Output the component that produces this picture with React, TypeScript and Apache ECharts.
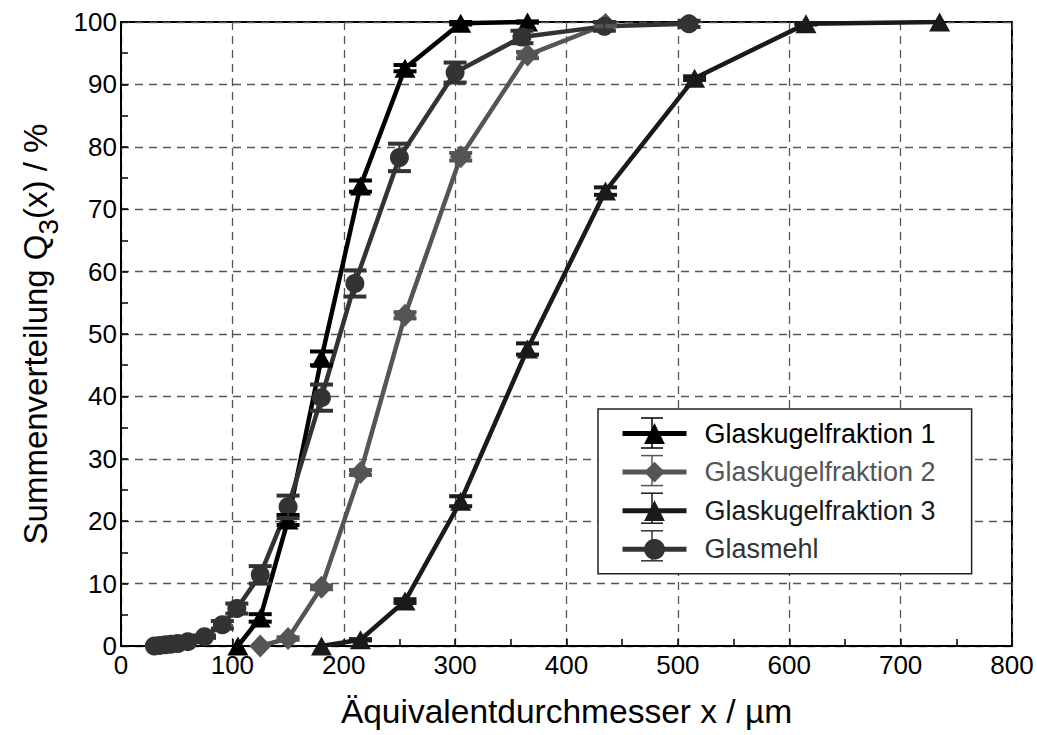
import React, { useEffect, useRef } from "react";
import * as echarts from "echarts";

// ---- data ----
const g1X = [105, 125, 150, 180, 215, 255, 305, 365];
const g1Y = [0, 4.5, 20.2, 46.1, 73.7, 92.6, 99.8, 100];
const g1Err = [0, 0.6, 0.8, 1.1, 0.9, 0.5, 0.2, 0.1];

const g2X = [125, 150, 180, 215, 255, 305, 365, 435];
const g2Y = [0, 1.2, 9.4, 27.8, 53, 78.4, 94.7, 99.6];
const g2Err = [0, 0.2, 0.3, 0.4, 0.5, 0.6, 0.5, 0.3];

const g3X = [180, 215, 255, 305, 365, 435, 515, 615, 735];
const g3Y = [0, 1.0, 7.2, 23.2, 47.6, 72.9, 91, 99.7, 100];
const g3Err = [0, 0.1, 0.3, 0.8, 0.9, 0.6, 0.3, 0.1, 0];

const gmX = [30, 35, 40, 45, 51, 60, 75, 91, 104, 125, 150, 180, 210, 250, 300, 360, 434, 510];
const gmY = [0, 0.1, 0.2, 0.3, 0.4, 0.7, 1.5, 3.4, 6.0, 11.4, 22.3, 39.8, 58.1, 78.3, 91.9, 97.6, 99.3, 99.7];
const gmErr = [0, 0, 0, 0, 0, 0.1, 0.2, 0.6, 0.8, 1.4, 1.8, 2.1, 2.1, 2.2, 1.6, 1.0, 0.7, 0.5];

const names = ["Glaskugelfraktion 1", "Glaskugelfraktion 2", "Glaskugelfraktion 3", "Glasmehl"];
const colors = ["#000000", "#555555", "#1a1a1a", "#333333"];
const symbols = ["triangle", "diamond", "triangle", "circle"];
const symbolSizes: any[] = [[21, 19], [22, 23], [21, 19], 19];

const xTicks = [0, 100, 200, 300, 400, 500, 600, 700, 800];
const yTicks = [0, 10, 20, 30, 40, 50, 60, 70, 80, 90, 100];

const FONT = "Liberation Sans, Arial, sans-serif";

export default function App() {
  const ref = useRef<HTMLDivElement>(null);
  useEffect(() => {
    if (!ref.current) return;
    const chart = echarts.init(ref.current, undefined, { renderer: "svg" });
    const xs = [g1X, g2X, g3X, gmX];
    const ys = [g1Y, g2Y, g3Y, gmY];
    const es = [g1Err, g2Err, g3Err, gmErr];

    const lineSeries = names.map((n, i) => ({
      name: n,
      type: "line",
      data: xs[i].map((x, j) => [x, ys[i][j]]),
      symbol: symbols[i],
      symbolSize: symbolSizes[i],
      showAllSymbol: true,
      lineStyle: { color: colors[i], width: 4.5 },
      itemStyle: { color: colors[i] },
      z: 3,
    }));

    const errSeries = names.map((n, i) => ({
      name: n + " err",
      type: "custom",
      data: xs[i].map((x, j) => [x, ys[i][j], es[i][j]]),
      encode: { x: 0, y: 1 },
      z: 4,
      renderItem: (params: any, api: any) => {
        const x = api.value(0);
        const y = api.value(1);
        const e = api.value(2);
        if (!e) return null;
        const top = api.coord([x, y + e]);
        const bot = api.coord([x, y - e]);
        const hw = 11.5;
        const st = { stroke: colors[i], lineWidth: 4 };
        return {
          type: "group",
          children: [
            { type: "line", shape: { x1: top[0], y1: top[1], x2: bot[0], y2: bot[1] }, style: { stroke: colors[i], lineWidth: 2 } },
            { type: "line", shape: { x1: top[0] - hw, y1: top[1], x2: top[0] + hw, y2: top[1] }, style: st },
            { type: "line", shape: { x1: bot[0] - hw, y1: bot[1], x2: bot[0] + hw, y2: bot[1] }, style: st },
          ],
        };
      },
    }));

    // legend geometry
    const legLeft = 598;
    const legTop = 409;
    const padTop = 11;
    const padLeft = 22;
    const itemH = 26;
    const itemGap = 11.6;
    const itemW = 64;
    const legendBars: any[] = [];
    names.forEach((n, i) => {
      const cy = legTop + padTop + i * (itemH + itemGap) + itemH / 2;
      const cx = legLeft + padLeft + itemW / 2;
      const st = { stroke: colors[i], lineWidth: 1.5 };
      legendBars.push(
        { type: "line", z: 100, shape: { x1: cx, y1: cy - 15, x2: cx, y2: cy + 15 }, style: st },
        { type: "line", z: 100, shape: { x1: cx - 11, y1: cy - 15, x2: cx + 11, y2: cy - 15 }, style: st },
        { type: "line", z: 100, shape: { x1: cx - 11, y1: cy + 15, x2: cx + 11, y2: cy + 15 }, style: st }
      );
    });

    const option: any = {
      animation: false,
      backgroundColor: "#ffffff",
      textStyle: { fontFamily: FONT },
      grid: {
        left: 121,
        right: 25,
        top: 22,
        bottom: 89,
        show: true,
        borderColor: "#000",
        borderWidth: 2,
        backgroundColor: "transparent",
      },
      xAxis: {
        type: "value",
        min: xTicks[0],
        max: xTicks[xTicks.length - 1],
        interval: 100,
        name: "Äquivalentdurchmesser x / µm",
        nameLocation: "middle",
        nameGap: 48,
        nameTextStyle: { fontSize: 33.5, color: "#000", fontFamily: FONT },
        axisLine: { show: true, lineStyle: { color: "#000", width: 2 } },
        axisTick: { show: true, inside: true, length: 7, lineStyle: { color: "#000", width: 1.5 } },
        minorTick: { show: true, splitNumber: 2, length: 7, lineStyle: { color: "#000", width: 1.5 } },
        axisLabel: { fontSize: 26, color: "#000", margin: 6, fontFamily: FONT },
        splitLine: { show: true, lineStyle: { color: "#555", width: 1.3, type: [8, 6] } },
      },
      yAxis: {
        type: "value",
        min: yTicks[0],
        max: yTicks[yTicks.length - 1],
        interval: 10,
        name: "{a|Summenverteilung Q}{s|3}{a|(x) / %}",
        nameLocation: "middle",
        nameRotate: 90,
        nameGap: 60,
        nameTextStyle: {
          fontSize: 33,
          color: "#000",
          fontFamily: FONT,
          rich: {
            a: { fontSize: 33, fontFamily: FONT, color: "#000", lineHeight: 44 },
            s: { fontSize: 28, fontFamily: FONT, color: "#000", lineHeight: 44, padding: [26, 0, 0, 0] },
          },
        },
        axisLine: { show: true, lineStyle: { color: "#000", width: 2 } },
        axisTick: { show: true, inside: true, length: 7, lineStyle: { color: "#000", width: 1.5 } },
        minorTick: { show: true, splitNumber: 2, length: 7, lineStyle: { color: "#000", width: 1.5 } },
        axisLabel: { fontSize: 26, color: "#000", margin: 4, fontFamily: FONT },
        splitLine: { show: true, lineStyle: { color: "#555", width: 1.3, type: [8, 6] } },
      },
      legend: {
        orient: "vertical",
        left: legLeft,
        top: legTop,
        padding: [padTop, 36, 11, padLeft],
        itemWidth: itemW,
        itemHeight: itemH,
        itemGap: itemGap,
        backgroundColor: "#fff",
        borderColor: "#222",
        borderWidth: 1.5,
        borderRadius: 0,
        z: 50,
        lineStyle: { width: 5 },
        textStyle: { fontSize: 27, fontFamily: FONT, padding: [0, 0, 0, 13], lineHeight: 26 },
        data: names.map((n, i) => ({ name: n, textStyle: { color: colors[i] } })),
      },
      graphic: legendBars,
      series: [...lineSeries, ...errSeries],
    };
    chart.setOption(option);
    return () => chart.dispose();
  }, []);
  return <div ref={ref} style={{ width: 1037, height: 735, position: "absolute", left: 0, top: 0 }} />;
}
